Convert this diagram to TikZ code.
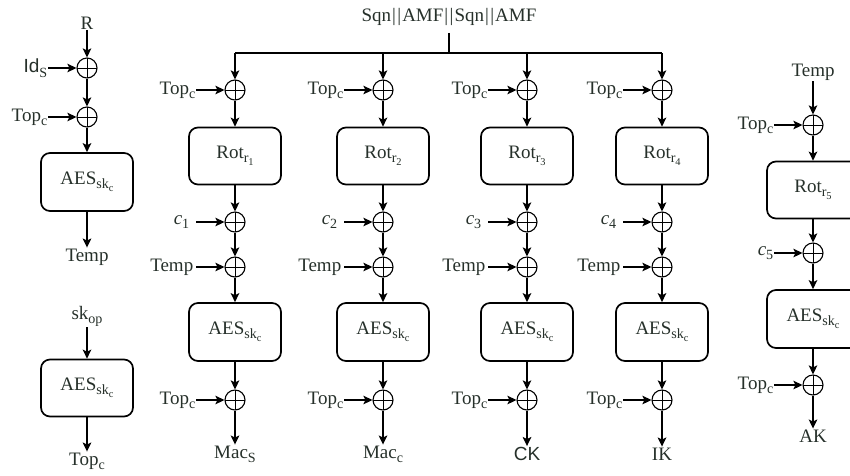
\documentclass[tikz,border=0pt]{standalone}
\usepackage{fontspec}
\setmainfont{Liberation Serif}
\setsansfont{Liberation Sans}
\usepackage{tikz}
\usetikzlibrary{arrows.meta,positioning}
\definecolor{ink}{RGB}{38,48,42}
\newcommand{\lo}[1]{\raisebox{-0.45ex}{\scalebox{0.74}{#1}}}

\begin{document}
\begin{tikzpicture}[
    x=1pt, y=-1pt,
    every node/.style={font=\fontsize{19}{22}\selectfont},
    box/.style={draw, line width=1.7pt, rounded corners=9pt, minimum width=92pt,
                minimum height=57pt, inner sep=0pt, text=ink},
    xor/.style={circle, draw, line width=1.1pt, minimum size=20pt, inner sep=0pt,
                path picture={\draw[line width=0.8pt]
                  (path picture bounding box.north) -- (path picture bounding box.south)
                  (path picture bounding box.west) -- (path picture bounding box.east);}},
    lbl/.style={text=ink, inner sep=1pt},
    arrow/.style={-{Stealth[length=9pt, width=8.5pt, inset=2pt]}, line width=1.7pt},
    wire/.style={line width=1.7pt},
]
\useasboundingbox (0,0) rectangle (850,475);

% Left: Temp generation
\node[lbl] (r) at (87,23) {R};
\node[xor] (idx) at (87,68) {};
\node[lbl, left=28pt of idx] (idlbl) {\sffamily Id\lo{\rmfamily S}};
\node[xor] (tx0) at (87,117) {};
\node[lbl, left=28pt of tx0] (txlbl0) {Top\lo{c}};
\node[box, minimum height=58pt] (aes0) at (87,182) {AES\lo{sk\lo{c}}};
\node[lbl] (temp0) at (87,257) {Temp};

\draw[arrow] (r) -- (idx);
\draw[arrow] (idlbl) -- (idx);
\draw[arrow] (idx) -- (tx0);
\draw[arrow] (txlbl0) -- (tx0);
\draw[arrow] (tx0) -- (aes0);
\draw[arrow] (aes0) -- (temp0);

% Left: Top_c from sk_op
\node[lbl] (skop) at (87,316) {sk\lo{op}};
\node[box] (aesop) at (87,388) {AES\lo{sk\lo{c}}};
\node[lbl] (topc) at (87,461) {Top\lo{c}};

\draw[arrow] (skop) -- (aesop);
\draw[arrow] (aesop) -- (topc);

% Shared input and bus
\node[lbl] (sqn) at (449,17) {Sqn\kern1pt|\kern1.5pt|\kern1pt AMF\kern1pt|\kern1.5pt|\kern1pt Sqn\kern1pt|\kern1.5pt|\kern1pt AMF};
\coordinate (busl) at (235,53);
\coordinate (busr) at (662,53);
\draw[wire] (busl) -- (busr);
\draw[wire, shorten <=6pt] (sqn) -- (sqn |- busl);

% Four key columns
\foreach \cx/\i/\outp in {235/1/{Mac\lo{S}}, 383/2/{Mac\lo{c}},
                          527/3/{\sffamily CK}, 662/4/{IK}}{
    \node[xor] (top\i) at (\cx,90) {};
    \node[lbl, left=28pt of top\i] (toplbl\i) {Top\lo{c}};
    \node[box] (rot\i) at (\cx,156) {Rot\lo{r\lo{\i}}};
    \node[xor] (cxor\i) at (\cx,222) {};
    \node[lbl, left=34pt of cxor\i] (clbl\i) {\textit{c}\lo{\i}};
    \node[xor] (txor\i) at (\cx,267) {};
    \node[lbl, left=30pt of txor\i] (tlbl\i) {Temp};
    \node[box, minimum height=58pt] (aes\i) at (\cx,332) {AES\lo{sk\lo{c}}};
    \node[xor] (oxor\i) at (\cx,400) {};
    \node[lbl, left=28pt of oxor\i] (olbl\i) {Top\lo{c}};
    \node[lbl] (res\i) at (\cx,454) {\outp};

    \draw[arrow] (top\i |- busl) -- (top\i);
    \draw[arrow] (toplbl\i) -- (top\i);
    \draw[arrow] (top\i) -- (rot\i);
    \draw[arrow] (rot\i) -- (cxor\i);
    \draw[arrow, shorten <=6pt] (clbl\i) -- (cxor\i);
    \draw[arrow] (cxor\i) -- (txor\i);
    \draw[arrow, shorten <=2pt] (tlbl\i) -- (txor\i);
    \draw[arrow] (txor\i) -- (aes\i);
    \draw[arrow] (aes\i) -- (oxor\i);
    \draw[arrow] (olbl\i) -- (oxor\i);
    \draw[arrow] (oxor\i) -- (res\i);
}

% Right: AK
\node[lbl] (temp5) at (813,72) {Temp};
\node[xor] (top5) at (813,125) {};
\node[lbl, left=28pt of top5] (toplbl5) {Top\lo{c}};
\node[box] (rot5) at (813,190) {Rot\lo{r\lo{5}}};
\node[xor] (cxor5) at (813,253) {};
\node[lbl, left=28pt of cxor5] (clbl5) {\textit{c}\lo{5}};
\node[box, minimum height=58pt] (aes5) at (813,319) {AES\lo{sk\lo{c}}};
\node[xor] (oxor5) at (813,385) {};
\node[lbl, left=28pt of oxor5] (olbl5) {Top\lo{c}};
\node[lbl] (ak) at (813,436) {AK};

\draw[arrow] (temp5) -- (top5);
\draw[arrow] (toplbl5) -- (top5);
\draw[arrow] (top5) -- (rot5);
\draw[arrow] (rot5) -- (cxor5);
\draw[arrow] (clbl5) -- (cxor5);
\draw[arrow] (cxor5) -- (aes5);
\draw[arrow] (aes5) -- (oxor5);
\draw[arrow] (olbl5) -- (oxor5);
\draw[arrow] (oxor5) -- (ak);

\end{tikzpicture}
\end{document}
